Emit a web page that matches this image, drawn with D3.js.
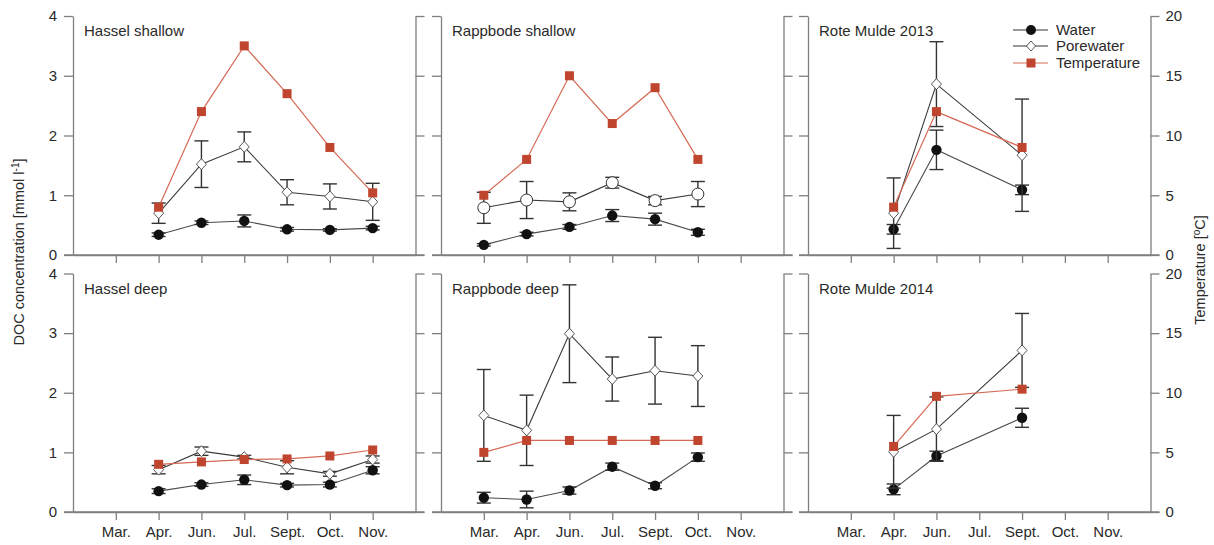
<!DOCTYPE html>
<html><head><meta charset="utf-8">
<script src="https://cdn.jsdelivr.net/npm/d3@7"></script>
<style>body{margin:0;background:#fff}svg{display:block;font-family:"Liberation Sans",Arial,sans-serif}</style>
</head><body><svg id="c" width="1214" height="545"></svg>
<script>
const monthLabels = ["Mar.","Apr.","Jun.","Jul.","Sept.","Oct.","Nov."];
const doCTicks = [0,1,2,3,4];
const tempTicks = [0,5,10,15,20];
const seriesNames = ["Water","Porewater","Temperature"];
const panelTitles = ["Hassel shallow","Rappbode shallow","Rote Mulde 2013","Hassel deep","Rappbode deep","Rote Mulde 2014"];

// Hassel shallow
const hsMonths = ["Apr.","Jun.","Jul.","Sept.","Oct.","Nov."];
const hsWater = [0.34,0.54,0.57,0.43,0.42,0.45];
const hsWaterErr = [0.03,0.03,0.10,0.03,0.02,0.03];
const hsPore = [0.70,1.52,1.81,1.05,0.98,0.89];
const hsPoreErr = [0.17,0.39,0.25,0.21,0.21,0.31];
const hsTemp = [4,12,17.5,13.5,9,5.2];
// Rappbode shallow
const rsMonths = ["Mar.","Apr.","Jun.","Jul.","Sept.","Oct."];
const rsWater = [0.17,0.35,0.47,0.66,0.60,0.38];
const rsWaterErr = [0.02,0.03,0.04,0.10,0.10,0.05];
const rsPore = [0.79,0.92,0.89,1.21,0.91,1.02];
const rsPoreErr = [0.26,0.31,0.15,0.09,0.07,0.21];
const rsTemp = [5,8,15,11,14,8];
// Rote Mulde 2013
const r13Months = ["Apr.","Jun.","Sept."];
const r13Water = [0.43,1.76,1.09];
const r13WaterErr = [0.08,0.33,0.08];
const r13Pore = [0.70,2.86,1.67];
const r13PoreErr = [0.59,0.71,0.94];
const r13Temp = [4,12,9];
// Hassel deep
const hdMonths = ["Apr.","Jun.","Jul.","Sept.","Oct.","Nov."];
const hdWater = [0.35,0.46,0.54,0.45,0.46,0.70];
const hdWaterErr = [0.04,0.03,0.08,0.03,0.04,0.06];
const hdPore = [0.71,1.02,0.92,0.75,0.64,0.88];
const hdPoreErr = [0.07,0.07,0.03,0.11,0.04,0.06];
const hdTemp = [4.0,4.2,4.4,4.45,4.7,5.2];
// Rappbode deep
const rdMonths = ["Mar.","Apr.","Jun.","Jul.","Sept.","Oct."];
const rdWater = [0.24,0.21,0.36,0.76,0.44,0.92];
const rdWaterErr = [0.09,0.14,0.06,0.06,0.05,0.07];
const rdPore = [1.62,1.37,2.99,2.23,2.37,2.28];
const rdPoreErr = [0.77,0.59,0.82,0.37,0.56,0.51];
const rdTemp = [5,6,6,6,6,6];
// Rote Mulde 2014
const r14Months = ["Apr.","Jun.","Sept."];
const r14Water = [0.38,0.94,1.58];
const r14WaterErr = [0.09,0.08,0.16];
const r14Pore = [1.01,1.39,2.71];
const r14PoreErr = [0.61,0.54,0.62];
const r14Temp = [5.5,9.7,10.3];

const poreMarkers = ["diamond","circle","diamond","diamond","diamond","diamond"];

const panels = [
  {m:hsMonths,w:hsWater,we:hsWaterErr,p:hsPore,pe:hsPoreErr,t:hsTemp},
  {m:rsMonths,w:rsWater,we:rsWaterErr,p:rsPore,pe:rsPoreErr,t:rsTemp},
  {m:r13Months,w:r13Water,we:r13WaterErr,p:r13Pore,pe:r13PoreErr,t:r13Temp},
  {m:hdMonths,w:hdWater,we:hdWaterErr,p:hdPore,pe:hdPoreErr,t:hdTemp},
  {m:rdMonths,w:rdWater,we:rdWaterErr,p:rdPore,pe:rdPoreErr,t:rdTemp},
  {m:r14Months,w:r14Water,we:r14WaterErr,p:r14Pore,pe:r14PoreErr,t:r14Temp}
];

const svg = d3.select("#c");
const AX = "#7f7f7f", TXT = "#2a2a2a", RED = "#c0452e", REDL = "#d66a55";
const lefts = [73,441,808], W = 342.5;
const rows = [{y0:255,y4:16},{y0:512,y4:273.5}];

panels.forEach((P,i)=>{
  const col = i%3, row = Math.floor(i/3);
  const L = lefts[col], R = L+W;
  const x = d3.scaleLinear().domain([0,8]).range([L,R]);
  const xi = d => x(monthLabels.indexOf(d)+1);
  const y = d3.scaleLinear().domain([0,4]).range([rows[row].y0,rows[row].y4]);
  const yt = d3.scaleLinear().domain([0,20]).range([rows[row].y0,rows[row].y4]);
  const g = svg.append("g");

  // left axis
  const la = g.append("g").attr("transform",`translate(${L},0)`)
    .call(d3.axisLeft(y).tickValues(doCTicks).tickSize(9).tickSizeOuter(0).tickFormat(col===0?d3.format("d"):""));
  // right axis
  const ra = g.append("g").attr("transform",`translate(${R},0)`)
    .call(d3.axisRight(yt).tickValues(tempTicks).tickSize(9).tickSizeOuter(0).tickFormat(col===2?d3.format("d"):""));
  // bottom axis
  const ba = g.append("g").attr("transform",`translate(0,${rows[row].y0})`)
    .call(d3.axisBottom(x).tickValues([1,2,3,4,5,6,7]).tickSize(8).tickSizeOuter(0)
      .tickFormat(row===1?(d=>monthLabels[d-1]):""));
  [la,ra,ba].forEach(a=>{
    a.selectAll("path,line").attr("stroke",AX).attr("stroke-width",1.3);
    a.selectAll("text").attr("fill",TXT).style("font-size","15px").style("font-family","'Liberation Sans',Arial,sans-serif");
  });
  la.selectAll("text").attr("x",-16);
  ra.selectAll("text").attr("x",15);
  ba.selectAll("text").attr("y",14);
  // extend x-axis line
  g.append("line").attr("x1",L-9).attr("x2",R+9).attr("y1",rows[row].y0).attr("y2",rows[row].y0)
    .attr("stroke",AX).attr("stroke-width",1.3);

  // title
  g.append("text").attr("x",L+11).attr("y",rows[row].y4+20).text(panelTitles[i])
    .attr("fill",TXT).style("font-size","15px");

  const idx = d3.range(P.m.length);
  const errbar = (vals,errs,color) => {
    idx.forEach(k=>{
      const cx = xi(P.m[k]), y1 = y(vals[k]+errs[k]), y2 = y(vals[k]-errs[k]);
      g.append("line").attr("x1",cx).attr("x2",cx).attr("y1",y1).attr("y2",y2).attr("stroke",color).attr("stroke-width",1.4);
      [y1,y2].forEach(yy=>g.append("line").attr("x1",cx-7).attr("x2",cx+7).attr("y1",yy).attr("y2",yy).attr("stroke",color).attr("stroke-width",1.4));
    });
  };
  // water
  g.append("path").attr("d",d3.line().x(k=>xi(P.m[k])).y(k=>y(P.w[k]))(idx))
    .attr("fill","none").attr("stroke","#4a4a4a").attr("stroke-width",1.1);
  errbar(P.w,P.we,"#333");
  idx.forEach(k=>g.append("circle").attr("cx",xi(P.m[k])).attr("cy",y(P.w[k])).attr("r",5.2).attr("fill","#111"));
  // porewater
  g.append("path").attr("d",d3.line().x(k=>xi(P.m[k])).y(k=>y(P.p[k]))(idx))
    .attr("fill","none").attr("stroke","#3a3a3a").attr("stroke-width",1.1);
  errbar(P.p,P.pe,"#333");
  idx.forEach(k=>{
    const cx = xi(P.m[k]), cy = y(P.p[k]);
    if (poreMarkers[i]==="circle")
      g.append("circle").attr("cx",cx).attr("cy",cy).attr("r",6).attr("fill","#fff").attr("stroke","#333").attr("stroke-width",1);
    else
      g.append("path").attr("d",`M${cx},${cy-5.5}L${cx+5},${cy}L${cx},${cy+5.5}L${cx-5},${cy}Z`)
        .attr("fill","#fff").attr("stroke","#444").attr("stroke-width",0.9);
  });
  // temperature
  g.append("path").attr("d",d3.line().x(k=>xi(P.m[k])).y(k=>yt(P.t[k]))(idx))
    .attr("fill","none").attr("stroke",REDL).attr("stroke-width",1.2);
  idx.forEach(k=>g.append("rect").attr("x",xi(P.m[k])-4.5).attr("y",yt(P.t[k])-4.5).attr("width",9).attr("height",9).attr("fill",RED));
});

// axis titles
svg.append("text").attr("transform","translate(24,252) rotate(-90)").attr("text-anchor","middle")
  .attr("fill",TXT).style("font-size","14.5px")
  .html('DOC concentration [mmol l<tspan dy="-5" font-size="10px">-1</tspan><tspan dy="5">]</tspan>');
svg.append("text").attr("transform","translate(1205,270) rotate(-90)").attr("text-anchor","middle")
  .attr("fill",TXT).style("font-size","14.5px")
  .html('Temperature [<tspan dy="-5" font-size="10px">o</tspan><tspan dy="5">C]</tspan>');

// legend
const lg = svg.append("g");
const ly = [30,46,63];
seriesNames.forEach((s,k)=>{
  const c = k===2?REDL:"#333";
  lg.append("line").attr("x1",1013).attr("x2",1048).attr("y1",ly[k]).attr("y2",ly[k]).attr("stroke",c).attr("stroke-width",1.1);
  if(k===0) lg.append("circle").attr("cx",1031).attr("cy",ly[k]).attr("r",5).attr("fill","#111");
  if(k===1) lg.append("path").attr("d",`M1031,${ly[k]-5}L1035.5,${ly[k]}L1031,${ly[k]+5}L1026.5,${ly[k]}Z`).attr("fill","#fff").attr("stroke","#444").attr("stroke-width",0.9);
  if(k===2) lg.append("rect").attr("x",1026.5).attr("y",ly[k]-4.5).attr("width",9).attr("height",9).attr("fill",RED);
  lg.append("text").attr("x",1056).attr("y",ly[k]+5).text(s).attr("fill",TXT).style("font-size","15px");
});
</script></body></html>
